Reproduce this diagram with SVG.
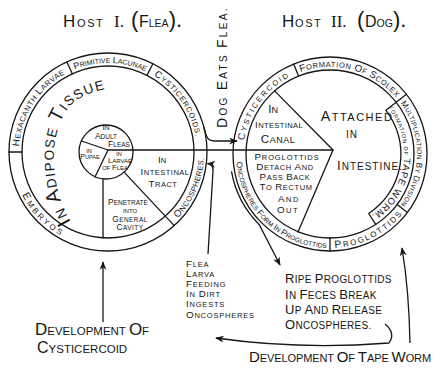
<svg xmlns="http://www.w3.org/2000/svg" width="433" height="370" viewBox="0 0 433 370">
<style>
.ln{fill:none;stroke:#161616;stroke-width:1.3;stroke-linecap:round;stroke-linejoin:round}
.ar{fill:none;stroke:#161616;stroke-width:1.3;marker-end:url(#ah)}
text{font-family:'Liberation Sans',Arial,sans-serif;fill:#161616}
.c{text-anchor:middle}
.b{font-size:1.3em}
.bb{font-size:1.45em}
</style>
<defs>
<marker id="ah" viewBox="0 0 10 8" refX="9" refY="4" markerWidth="9" markerHeight="7" markerUnits="userSpaceOnUse" orient="auto"><path d="M0,0 L10,4 L0,8 L3,4 z" fill="#161616"/></marker>
<path id="pHex" d="M19.05 148.9 A89 89 0 0 1 67.6 72.7"/>
<path id="pPrim" d="M73.2 70.1 A89 89 0 0 1 147 72"/>
<path id="pCys1" d="M151.1 74.2 A89 89 0 0 1 196.1 139.6"/>
<path id="pEmb" d="M16.7 181.7 A96 96 0 0 0 75.2 242.2"/>
<path id="pOnc1" d="M177.1 218.7 A96 96 0 0 0 203.9 157"/>
<path id="pAdi" d="M71 222 C49 185 47 130 72 104 C86 92 104 88 128 86"/>
<path id="pCys2" d="M243.5 144.9 A87 87 0 0 1 294.6 74.5"/>
<path id="pSco" d="M300.2 72.2 A87 87 0 0 1 396.6 98.1"/>
<path id="pMul" d="M400.4 102.9 A87 87 0 0 1 400.4 205.1"/>
<path id="pTape" d="M388.3 108.4 A74 74 0 0 1 371.4 215.3"/>
<path id="pProg" d="M334.9 247.9 A94 94 0 0 0 403.1 213.2"/>
<path id="pOncF" d="M236.4 162.2 A94 94 0 0 0 326.7 247.9"/>
</defs>
<rect width="433" height="370" fill="#fff"/>

<g id="title1"><text y="27"><tspan x="63" font-size="17">H</tspan><tspan x="77" font-size="11" letter-spacing="1.6">OST</tspan><tspan x="114" font-family="Liberation Serif, serif" font-size="17">I.</tspan><tspan x="131" font-size="22">(</tspan><tspan x="139" font-size="16">F</tspan><tspan font-size="10.5">LEA</tspan><tspan font-size="22">).</tspan></text></g>
<g id="title2"><text y="27"><tspan x="282" font-size="17">H</tspan><tspan x="295" font-size="11" letter-spacing="1.6">OST</tspan><tspan x="331" font-family="Liberation Serif, serif" font-size="17">II.</tspan><tspan x="357" font-size="22">(</tspan><tspan x="365" font-size="16">D</tspan><tspan font-size="10.5">OG</tspan><tspan font-size="22">).</tspan></text></g>

<g id="host1">
<circle cx="108" cy="152" r="99" class="ln"/>
<circle cx="108" cy="152" r="86" class="ln"/>
<circle cx="106" cy="152" r="27" class="ln"/>
<path class="ln" d="M9 152 H22 M66.9 61.9 L72.3 73.7 M152.9 63.8 L147 75.4 M124.1 172.1 L174.2 225.6 M103 179 V237.9 M81.4 141 L108 150 L95 177"/>
<text font-size="7.5" letter-spacing="0.6" class="c"><textPath href="#pHex" startOffset="50%"><tspan class="b">H</tspan>EXACANTH <tspan class="b">L</tspan>ARVAE</textPath></text>
<text font-size="7" class="c"><textPath href="#pPrim" startOffset="50%"><tspan class="b">P</tspan>RIMITIVE <tspan class="b">L</tspan>ACUNAE</textPath></text>
<text font-size="7.5" letter-spacing="0.8"><textPath href="#pCys1" startOffset="3"><tspan class="b">C</tspan>YSTICERCOIDS.</textPath></text>
<text font-size="8" letter-spacing="2.5" class="c"><textPath href="#pEmb" startOffset="50%"><tspan class="b">E</tspan>MBRYOS</textPath></text>
<text font-size="7.5" letter-spacing="0.4" class="c"><textPath href="#pOnc1" startOffset="50%"><tspan class="b">O</tspan>NCOSPHERES.</textPath></text>
<text font-size="13.5" letter-spacing="1.4"><textPath href="#pAdi"><tspan class="bb">I</tspan>N <tspan class="bb">A</tspan>DIPOSE <tspan class="bb">T</tspan>ISSUE</textPath></text>
<g class="c">
<text x="106" y="130" font-size="6.5"><tspan class="b">I</tspan>N</text>
<text x="106" y="138.5" font-size="6.5"><tspan class="b">A</tspan>DULT</text>
<text x="119" y="147" font-size="6.5"><tspan class="b">F</tspan>LEAS</text>
<text x="89" y="152.5" font-size="5.5">IN</text>
<text x="90" y="158.5" font-size="5.5"><tspan class="b">P</tspan>UPAE</text>
<text x="119" y="155.5" font-size="5.5">IN</text>
<text x="120" y="163" font-size="6"><tspan class="b">L</tspan>ARVAE</text>
<text x="115" y="170" font-size="6">OF <tspan class="b">F</tspan>LEA</text>
<text x="162" y="163" font-size="7.5"><tspan class="b">I</tspan>N</text>
<text x="165" y="175" font-size="7.5" letter-spacing="0.5"><tspan class="b">I</tspan>NTESTINAL</text>
<text x="163" y="187" font-size="7.5" letter-spacing="0.5"><tspan class="b">T</tspan>RACT</text>
<text x="128" y="205" font-size="6.5"><tspan class="b">P</tspan>ENETRATE</text>
<text x="130" y="213" font-size="6">INTO</text>
<text x="130" y="221.5" font-size="6.5" letter-spacing="0.4"><tspan class="b">G</tspan>ENERAL</text>
<text x="130" y="229.5" font-size="6.5" letter-spacing="0.4"><tspan class="b">C</tspan>AVITY</text>
</g>
</g>

<g id="host2">
<circle cx="330" cy="154" r="97" class="ln"/>
<circle cx="330" cy="154" r="84" class="ln"/>
<path class="ln" d="M298.5 76.1 L293.7 64.1 M385.9 110.3 L406.4 94.3 M397.1 204.6 L407.5 212.4 M330 238 V251 M274.6 90.9 L333 150 L298 232 M385.9 110.3 A71 71 0 0 1 368.7 213.5 L375.7 224.4"/>
<text font-size="7.5" letter-spacing="2" class="c"><textPath href="#pCys2" startOffset="50%"><tspan class="b">C</tspan>YSTICERCOID</textPath></text>
<text font-size="7.5" letter-spacing="0.6" class="c"><textPath href="#pSco" startOffset="50%"><tspan class="b">F</tspan>ORMATION <tspan class="b">O</tspan>F <tspan class="b">S</tspan>COLEX</textPath></text>
<text font-size="6.5" letter-spacing="0.4" class="c"><textPath href="#pMul" startOffset="50%"><tspan class="b">M</tspan>ULTIPLICATION <tspan class="b">B</tspan>Y <tspan class="b">D</tspan>IVISION</textPath></text>
<text font-size="5.5" letter-spacing="0.8" class="c"><textPath href="#pTape" startOffset="50%">FORMATION OF <tspan font-size="9.5">TAPE WORM.</tspan></textPath></text>
<text font-size="8" letter-spacing="1.8" class="c"><textPath href="#pProg" startOffset="50%"><tspan class="b">P</tspan>ROGLOTTIDS</textPath></text>
<text font-size="6.5" letter-spacing="0.1" class="c"><textPath href="#pOncF" startOffset="50%"><tspan class="b">O</tspan>NCOSPHERES <tspan class="b">F</tspan>ORM <tspan class="b">I</tspan>N <tspan class="b">P</tspan>ROGLOTTIDS</textPath></text>
<g class="c">
<text x="273" y="113" font-size="9"><tspan class="b">I</tspan>N</text>
<text x="279" y="128" font-size="7.5" letter-spacing="0.4"><tspan class="b">I</tspan>NTESTINAL</text>
<text x="278" y="143" font-size="9" letter-spacing="0.5"><tspan class="b">C</tspan>ANAL</text>
<text x="357" y="121" font-size="11" letter-spacing="1.5"><tspan class="b">A</tspan>TTACHED</text>
<text x="352" y="138" font-size="10" letter-spacing="1">IN</text>
<text x="370" y="170" font-size="10" letter-spacing="1"><tspan class="b">I</tspan>NTESTINE.</text>
<text x="287" y="160" font-size="7.5" letter-spacing="0.9"><tspan class="b">P</tspan>ROGLOTTIDS</text>
<text x="285" y="170" font-size="7.5" letter-spacing="0.6"><tspan class="b">D</tspan>ETACH <tspan class="b">A</tspan>ND</text>
<text x="285" y="180" font-size="7.5" letter-spacing="0.6"><tspan class="b">P</tspan>ASS <tspan class="b">B</tspan>ACK</text>
<text x="286" y="190" font-size="7.5" letter-spacing="0.6"><tspan class="b">T</tspan>O <tspan class="b">R</tspan>ECTUM</text>
<text x="289" y="202" font-size="7.5" letter-spacing="1.5"><tspan class="b">A</tspan>ND</text>
<text x="288" y="213" font-size="7.5" letter-spacing="1.5"><tspan class="b">O</tspan>UT</text>
</g>
</g>

<g id="axis"><path class="ln" d="M108 150 H333"/></g>

<g id="dogEatsFlea"><text transform="translate(227,128) rotate(-90)" font-size="10" letter-spacing="2.3"><tspan font-size="14">D</tspan>OG <tspan font-size="14">E</tspan>ATS <tspan font-size="14">F</tspan>LEA.</text></g>

<g id="fleaLarva" font-size="7.5" letter-spacing="0.8">
<text x="186" y="267"><tspan class="b">F</tspan>LEA</text>
<text x="186" y="277"><tspan class="b">L</tspan>ARVA</text>
<text x="186" y="287"><tspan class="b">F</tspan>EEDING</text>
<text x="186" y="297"><tspan class="b">I</tspan>N <tspan class="b">D</tspan>IRT</text>
<text x="186" y="307"><tspan class="b">I</tspan>NGESTS</text>
<text x="186" y="318"><tspan class="b">O</tspan>NCOSPHERES</text>
</g>

<g id="ripe" font-size="10" letter-spacing="0.3">
<text x="285" y="283"><tspan class="b">R</tspan>IPE <tspan class="b">P</tspan>ROGLOTTIDS</text>
<text x="285" y="299"><tspan class="b">I</tspan>N <tspan class="b">F</tspan>ECES <tspan class="b">B</tspan>REAK</text>
<text x="285" y="314"><tspan class="b">U</tspan>P <tspan class="b">A</tspan>ND <tspan class="b">R</tspan>ELEASE</text>
<text x="285" y="329"><tspan class="b">O</tspan>NCOSPHERES.</text>
</g>

<g id="devCyst" font-size="11.5">
<text x="35" y="335"><tspan font-size="17">D</tspan>EVELOPMENT <tspan font-size="17">O</tspan>F</text>
<text x="37" y="353"><tspan font-size="16">C</tspan>YSTICERCOID</text>
</g>

<g id="devTape" font-size="11">
<text x="249" y="362" letter-spacing="-0.1"><tspan font-size="15">D</tspan>EVELOPMENT <tspan font-size="15">O</tspan>F <tspan font-size="15">T</tspan>APE <tspan font-size="15">W</tspan>ORM</text>
</g>

<g id="connectors">
<path class="ar" d="M203.6 126.4 C206 134 206 141 214 141 L237 141"/>
<path class="ar" d="M208 254 L213 171 Q213.5 164 207.5 163.5"/>
<path class="ar" d="M231.5 171.4 A100 100 0 0 0 259.3 224.7 L280 265"/>
<path class="ar" d="M385 324 Q396 333 389 343 Q300 350 216 338"/>
<path class="ar" d="M410 343 Q409 290 402 248"/>
<path class="ar" d="M103 322 V262"/>
</g>
</svg>
